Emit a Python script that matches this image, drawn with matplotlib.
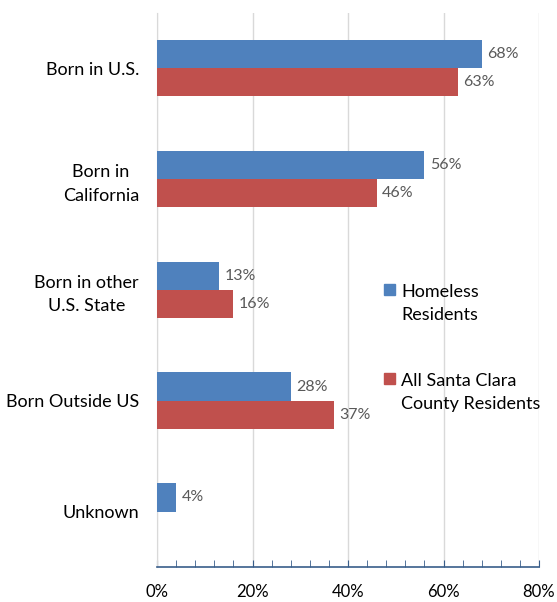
import matplotlib
matplotlib.use("Agg")
import matplotlib.pyplot as plt
from matplotlib.patches import Rectangle
from matplotlib.ticker import MultipleLocator, FuncFormatter

categories = ["Born in U.S.", "Born in\nCalifornia", "Born in other\nU.S. State",
              "Born Outside US", "Unknown"]
homeless = [68, 56, 13, 28, 4]
all_county = [63, 46, 16, 37, None]
series_names = ["Homeless\nResidents", "All Santa Clara\nCounty Residents"]
colors = ["#4f81bd", "#c0504d"]

plt.rcParams["font.family"] = ["Lato", "DejaVu Sans"]

fig = plt.figure(figsize=(5.57, 6.02), dpi=100)
ax = fig.add_axes([0.2819, 0.0581, 0.6858, 0.921])

bar_h = 0.255
n = len(categories)
ys = list(range(n))
for i, y in enumerate(ys):
    for j, vals in enumerate([homeless, all_county]):
        v = vals[i]
        if v is None:
            continue
        yc = y - bar_h / 2 if j == 0 else y + bar_h / 2
        ax.barh(yc, v, height=bar_h, color=colors[j], edgecolor="none", zorder=3)
        ax.text(v + 1.1, yc, f"{v}%", va="center", ha="left",
                fontsize=11.5, color="#595959", zorder=4)

ax.set_ylim(n - 0.5, -0.5)
ax.set_xlim(0, 80)
ax.set_yticks(ys)
ax.set_yticklabels(categories, fontsize=13, multialignment="center",
                   linespacing=1.55)
ax.tick_params(axis="y", length=0, pad=13)

ax.xaxis.set_major_locator(MultipleLocator(20))
ax.xaxis.set_minor_locator(MultipleLocator(4))
ax.xaxis.set_major_formatter(FuncFormatter(lambda v, p: f"{int(v)}%"))
ax.tick_params(axis="x", which="both", direction="in", length=5,
               color="#385d8a", labelsize=12, pad=12)
ax.grid(axis="x", which="major", color="#d9d9d9", linewidth=1, zorder=0)

for s in ["top", "right"]:
    ax.spines[s].set_visible(False)
ax.spines["left"].set_color("#d9d9d9")
ax.spines["bottom"].set_color("#385d8a")
ax.spines["bottom"].set_linewidth(1.2)

# legend drawn as boxes with two-line labels
W, H = 557, 602
leg = [(290, series_names[0], colors[0]), (379, series_names[1], colors[1])]
for ypx, label, c in leg:
    fig.add_artist(Rectangle((384 / W, 1 - (ypx + 5) / H), 11 / W, 11 / H,
                             transform=fig.transFigure, color=c))
    fig.text(401 / W, 1 - (ypx - 6) / H, label, ha="left", va="top",
             fontsize=13, color="black", linespacing=1.55)

fig.savefig("out.png", dpi=100)
